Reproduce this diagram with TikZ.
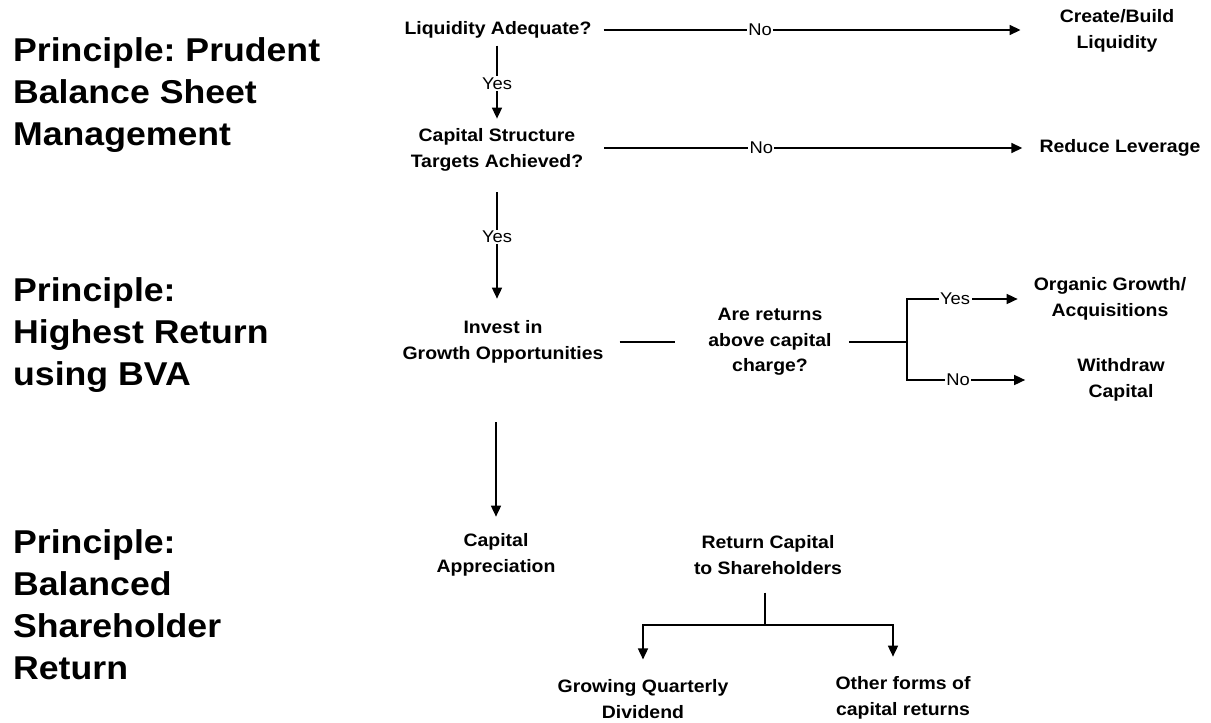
\documentclass[tikz,border=0pt]{standalone}
\usepackage{fontspec}
\setmainfont{Liberation Sans}
\newfontfamily\headfont{Liberation Sans}[FakeStretch=1.08]
\newfontfamily\boxfont{Liberation Sans}[FakeStretch=1.08]
\usetikzlibrary{arrows.meta,calc}
\frenchspacing

\tikzset{
  principle/.style={anchor=north west, align=left, inner sep=0pt,
    font=\headfont\bfseries\fontsize{33}{42}\selectfont},
  item/.style={align=center, inner sep=0pt,
    font=\boxfont\bfseries\fontsize{18}{25.5}\selectfont},
  flow/.style={line width=1.6pt},
  arr/.style={flow, -{Triangle[length=11pt,width=10pt]}},
  answer/.style={fill=white, inner sep=1.5pt,
    font=\boxfont\fontsize{17}{20}\selectfont},
}

\begin{document}
\begin{tikzpicture}[x=1pt, y=-1pt]
  \useasboundingbox [fill=white] (0,0) rectangle (1211,723);

  % principles on the left
  \node [principle] (prudent) at (13,37) {Principle: Prudent\\Balance Sheet\\Management};
  \node [principle] (highest) at (13,277) {Principle:\\Highest Return\\using BVA};
  \node [principle] (balanced) at (13,529) {Principle:\\Balanced\\Shareholder\\Return};

  % decisions and outcomes
  \node [item] (liq) at (498,30) {Liquidity Adequate?};
  \node [item] (create) at (1117,31) {Create/Build\\Liquidity};
  \node [item] (cap) at (497,150) {Capital Structure\\Targets Achieved?};
  \node [item] (reduce) at (1120,148) {Reduce Leverage};
  \node [item] (invest) at (503,342) {Invest in\\Growth Opportunities};
  \node [item] (returns) at (770,342) {Are returns\\above capital\\charge?};
  \node [item] (organic) at (1110,299) {Organic Growth/\\Acquisitions};
  \node [item] (withdraw) at (1121,380) {Withdraw\\Capital};
  \node [item] (apprec) at (496,555) {Capital\\Appreciation};
  \node [item] (retcap) at (768,555) {Return Capital\\to Shareholders};
  \node [item] (dividend) at (643,699) {Growing Quarterly\\Dividend};
  \node [item] (other) at (903,698) {Other forms of\\capital returns};

  \coordinate (fork) at (907,342);
  \coordinate (split) at (765,625);

  \draw [arr, shorten <=12pt, shorten >=39pt] (liq.east) -- node [answer, pos=0.36] {No} (liq.east -| create.west);
  \draw [arr, shorten <=7pt, shorten >=10pt] (liq.south -| cap.north) -- node [answer] {Yes} (cap.north);
  \draw [arr, shorten <=21pt, shorten >=17pt] (reduce.west -| cap.east) -- node [answer, pos=0.39] {No} (reduce.west);
  \draw [arr, shorten <=21pt, shorten >=22pt] (cap.south) -- node [answer, pos=0.44] {Yes} (cap.south |- invest.north);

  \draw [flow, shorten <=16pt, shorten >=33pt] (invest.east) -- (invest.east -| returns.west);
  \draw [flow, shorten <=17pt] (returns.east) -- (fork);
  \draw [arr, shorten >=16pt] (fork) |- node [answer, pos=0.69] {Yes} (organic.west);
  \draw [arr, shorten >=52pt] (fork) |- node [answer, pos=0.65] {No} (withdraw.west);

  \draw [arr, shorten <=59pt, shorten >=17pt] (invest.south -| apprec.north) -- (apprec.north);

  \draw [flow, shorten <=18pt] (retcap.south -| split) -- (split);
  \draw [arr, shorten >=20pt] (split) -| (dividend.north);
  \draw [arr, shorten >=20pt] (split) -| ($(other.north)+(-10,0)$);
\end{tikzpicture}
\end{document}
